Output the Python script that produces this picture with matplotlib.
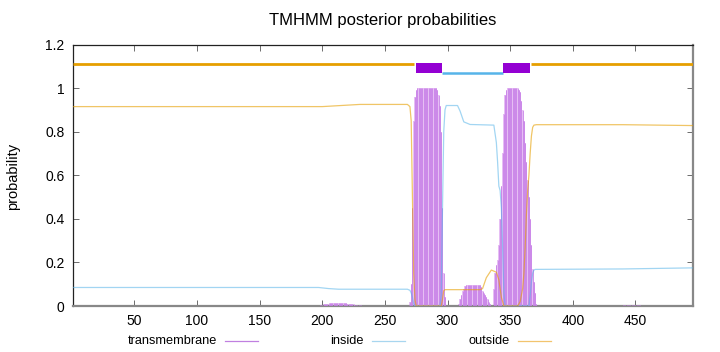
import matplotlib
matplotlib.use("Agg")
import matplotlib.pyplot as plt
from matplotlib.lines import Line2D
import numpy as np

plt.rcParams['font.family'] = ['Liberation Sans', 'DejaVu Sans']
plt.rcParams['font.size'] = 10

seq_len = 496

# Transmembrane posterior probability (impulses), per residue
tm_x = list(range(198, 233)) + list(range(269, 299)) + list(range(309, 372)) + list(range(439, 456))
tm_y = ([0.004, 0.005, 0.006, 0.007, 0.008, 0.009, 0.010, 0.011, 0.012, 0.012,
         0.013, 0.013, 0.014, 0.014, 0.015, 0.015, 0.015, 0.014, 0.014, 0.013,
         0.013, 0.012, 0.011, 0.010, 0.009, 0.009, 0.008, 0.007, 0.006, 0.006,
         0.005, 0.004, 0.004, 0.003, 0.002] +
        [0.005, 0.02, 0.10, 0.45, 0.85, 0.96, 0.99, 1.0, 1.0, 1.0,
         1.0, 1.0, 1.0, 1.0, 1.0, 1.0, 1.0, 1.0, 1.0, 1.0,
         1.0, 1.0, 1.0, 0.99, 0.97, 0.92, 0.80, 0.45, 0.15, 0.04] +
        [0.01, 0.03, 0.05, 0.07, 0.08, 0.09, 0.095, 0.095, 0.095, 0.095,
         0.095, 0.095, 0.095, 0.095, 0.095, 0.095, 0.095, 0.095, 0.085, 0.07,
         0.06, 0.05, 0.04, 0.03, 0.02, 0.01, 0.0, 0.0, 0.08, 0.15,
         0.19, 0.21, 0.28, 0.40, 0.55, 0.70, 0.88, 0.97, 0.99, 1.0,
         1.0, 1.0, 1.0, 1.0, 1.0, 1.0, 1.0, 1.0, 0.99, 0.98,
         0.94, 0.90, 0.85, 0.75, 0.66, 0.58, 0.50, 0.40, 0.28, 0.17,
         0.11, 0.06, 0.01] +
        [0.002, 0.003, 0.003, 0.004, 0.004, 0.005, 0.005, 0.005, 0.005, 0.005,
         0.005, 0.004, 0.004, 0.004, 0.003, 0.003, 0.002])

# Inside posterior probability
inside_x = [1, 197, 205, 213, 268, 270, 271, 272, 273, 274, 275, 294, 295, 296, 297, 298,
            299, 308, 310, 313, 318, 337, 339, 340, 341, 342, 343, 344, 345, 346, 365,
            366, 367, 368, 369, 370, 440, 496]
inside_y = [0.085, 0.085, 0.08, 0.077, 0.077, 0.072, 0.06, 0.04, 0.01, 0.0, 0.0, 0.0, 0.05,
            0.45, 0.80, 0.90, 0.92, 0.92, 0.895, 0.845, 0.833, 0.83, 0.75, 0.66, 0.55,
            0.53, 0.45, 0.27, 0.06, 0.0, 0.0, 0.05, 0.11, 0.15, 0.165, 0.168, 0.17, 0.175]

# Outside posterior probability
outside_x = [1, 200, 215, 230, 268, 270, 271, 272, 273, 274, 275, 295, 296, 297, 298,
             326, 328, 331, 335, 339, 341, 343, 345, 356, 358, 360, 361, 362, 363, 364,
             365, 366, 367, 368, 369, 371, 440, 496]
outside_y = [0.915, 0.915, 0.92, 0.925, 0.925, 0.915, 0.85, 0.50, 0.15, 0.03, 0.0, 0.0,
             0.03, 0.07, 0.075, 0.075, 0.08, 0.13, 0.165, 0.155, 0.12, 0.04, 0.0, 0.0,
             0.02, 0.08, 0.15, 0.27, 0.42, 0.53, 0.60, 0.70, 0.78, 0.82, 0.83, 0.832,
             0.832, 0.828]

# Predicted topology segments (start, end, kind)
topo_start = [1, 274.5, 296, 344.5, 367]
topo_end = [273, 295.5, 344.5, 366, 496]
topo_kind = ['outside', 'tm', 'inside', 'tm', 'outside']

x_ticks = [50, 100, 150, 200, 250, 300, 350, 400, 450]
y_ticks = [0, 0.2, 0.4, 0.6, 0.8, 1.0, 1.2]
y_tick_labels = ['0', '0.2', '0.4', '0.6', '0.8', '1', '1.2']

c_tm = '#9400d3'
c_in = '#56b4e9'
c_out = '#e69f00'

fig = plt.figure(figsize=(7.2, 3.52), dpi=100)
ax = fig.add_axes([73 / 720, 1 - 306 / 352, 620 / 720, (306 - 44.5) / 352])

# impulses
ax.bar(tm_x, tm_y, width=1.0, color='#e6bef4', linewidth=0, zorder=2)
ax.vlines(tm_x, 0, tm_y, color='#c780e8', linewidth=0.6, zorder=3)

ax.plot(inside_x, inside_y, color=c_in, alpha=0.55, lw=0.9, zorder=4)
ax.plot(outside_x, outside_y, color=c_out, alpha=0.6, lw=0.9, zorder=4)

topo_y = {'outside': 1.11, 'tm': 1.09, 'inside': 1.07}
topo_lw = {'outside': 2.0, 'tm': 7.2, 'inside': 1.8}
topo_c = {'outside': c_out, 'tm': c_tm, 'inside': c_in}
for s, e, k in zip(topo_start, topo_end, topo_kind):
    ax.plot([s, e], [topo_y[k], topo_y[k]], color=topo_c[k], lw=topo_lw[k],
            solid_capstyle='butt', zorder=5)

ax.set_xlim(1, seq_len)
ax.set_ylim(0, 1.2)
ax.set_xticks(x_ticks)
ax.set_yticks(y_ticks)
ax.set_yticklabels(y_tick_labels)
ax.tick_params(direction='in', length=4, width=0.6, top=True, right=True,
               colors='#555555', labelcolor='black', labelsize=10, pad=6)

for side in ['left', 'top']:
    ax.spines[side].set_color('#222222')
    ax.spines[side].set_linewidth(0.9)
for side in ['bottom', 'right']:
    ax.spines[side].set_color('#888888')
    ax.spines[side].set_linewidth(1.6)

fig.text(383 / 720, 1 - 21 / 352, 'TMHMM posterior probabilities', ha='center', va='center', fontsize=12)
fig.text(13 / 720, 1 - 176 / 352, 'probability', rotation=90, ha='center', va='center', fontsize=10.5)

# legend below
leg_labels = ['transmembrane', 'inside', 'outside']
leg_colors = ['#c080e0', '#a8d6ef', '#f2c46e']
leg_text_right = [217, 364, 510]
leg_y = 1 - 341 / 352
for lab, col, xr in zip(leg_labels, leg_colors, leg_text_right):
    fig.text(xr / 720, leg_y, lab, ha='right', va='center', fontsize=9.2)
    fig.add_artist(Line2D([(xr + 8) / 720, (xr + 41) / 720], [leg_y, leg_y],
                          color=col, lw=0.9, transform=fig.transFigure))

fig.savefig('out.png', dpi=100)
